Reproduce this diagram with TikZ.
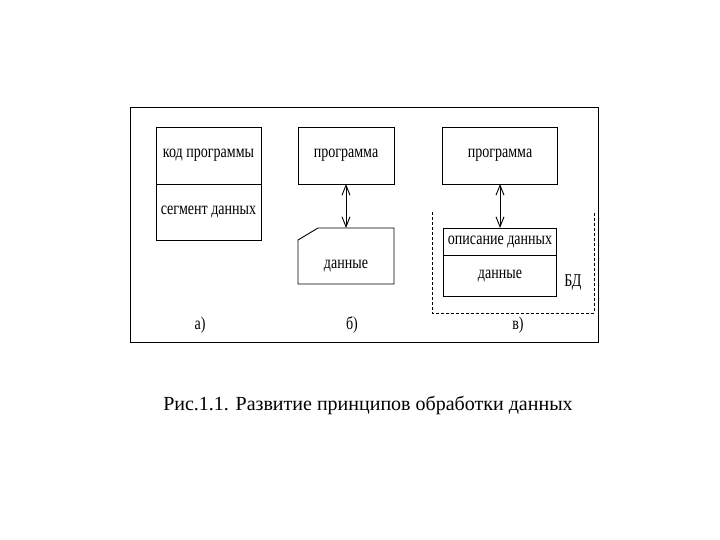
\documentclass[tikz,border=0pt]{standalone}
\usepackage{fontspec}
\setmainfont{Liberation Serif}
\newfontfamily\cond[FakeStretch=0.78]{Liberation Serif}
\usetikzlibrary{arrows.meta}
\begin{document}
\begin{tikzpicture}[x=1pt,y=-1pt,
  box/.style={draw,line width=0.9pt,rectangle,inner sep=0pt,outer sep=0pt,font=\cond\fontsize{18}{18}\selectfont},
  lbl/.style={font=\cond\fontsize{18}{18}\selectfont,inner sep=0pt},
  link/.style={line width=0.9pt,{Straight Barb[length=10pt,width=8pt]}-{Straight Barb[length=10pt,width=8pt]}}]
\useasboundingbox (0,0) rectangle (720,540);
% outer frame
\draw[line width=0.9pt] (130,107) rectangle (598,342);
% a)
\node[box,minimum width=105pt,minimum height=57pt] (ka) at (208.5,155.5) {код программы};
\node[box,minimum width=105pt,minimum height=56pt] (sa) at (208.5,212) {сегмент данных};
% b)
\node[box,minimum width=96pt,minimum height=57pt] (pb) at (346,155.5) {программа};
\node[minimum width=96pt,minimum height=56pt,inner sep=0pt,outer sep=0pt] (db) at (346,256) {};
\draw[line width=0.9pt] ([yshift=-12pt]db.north west) -- ([xshift=20pt]db.north west) -- (db.north east) -- (db.south east) -- (db.south west) -- cycle;
\node[lbl] (dbt) at (346,266) {данные};
\draw[link] (pb.south) -- (db.north);
% c)
\node[box,minimum width=115pt,minimum height=57pt] (pc) at (500,155.5) {программа};
\node[box,minimum width=113pt,minimum height=27pt] (opc) at (500,241.5) {описание данных};
\node[box,minimum width=113pt,minimum height=41pt] (dc) at (500,275.5) {данные};
\draw[link] (pc.south) -- (opc.north);
\coordinate (d1) at (432,212);
\coordinate (d2) at (432,313);
\coordinate (d3) at (594,313);
\coordinate (d4) at (594,212);
\draw[line width=0.9pt,dash pattern=on 3pt off 2pt] (d1) -- (d2) -- (d3) -- (d4);
\node[lbl] (bd) at (573,283) {БД};
% labels
\node[lbl] (la) at (200,325) {а)};
\node[lbl] (lb) at (352,325) {б)};
\node[lbl] (lc) at (518,325) {в)};
% caption
\node[font=\fontsize{20}{20}\selectfont,inner sep=0pt] (cap) at (368,405) {Рис.1.1. Развитие принципов обработки данных};
\end{tikzpicture}
\end{document}
